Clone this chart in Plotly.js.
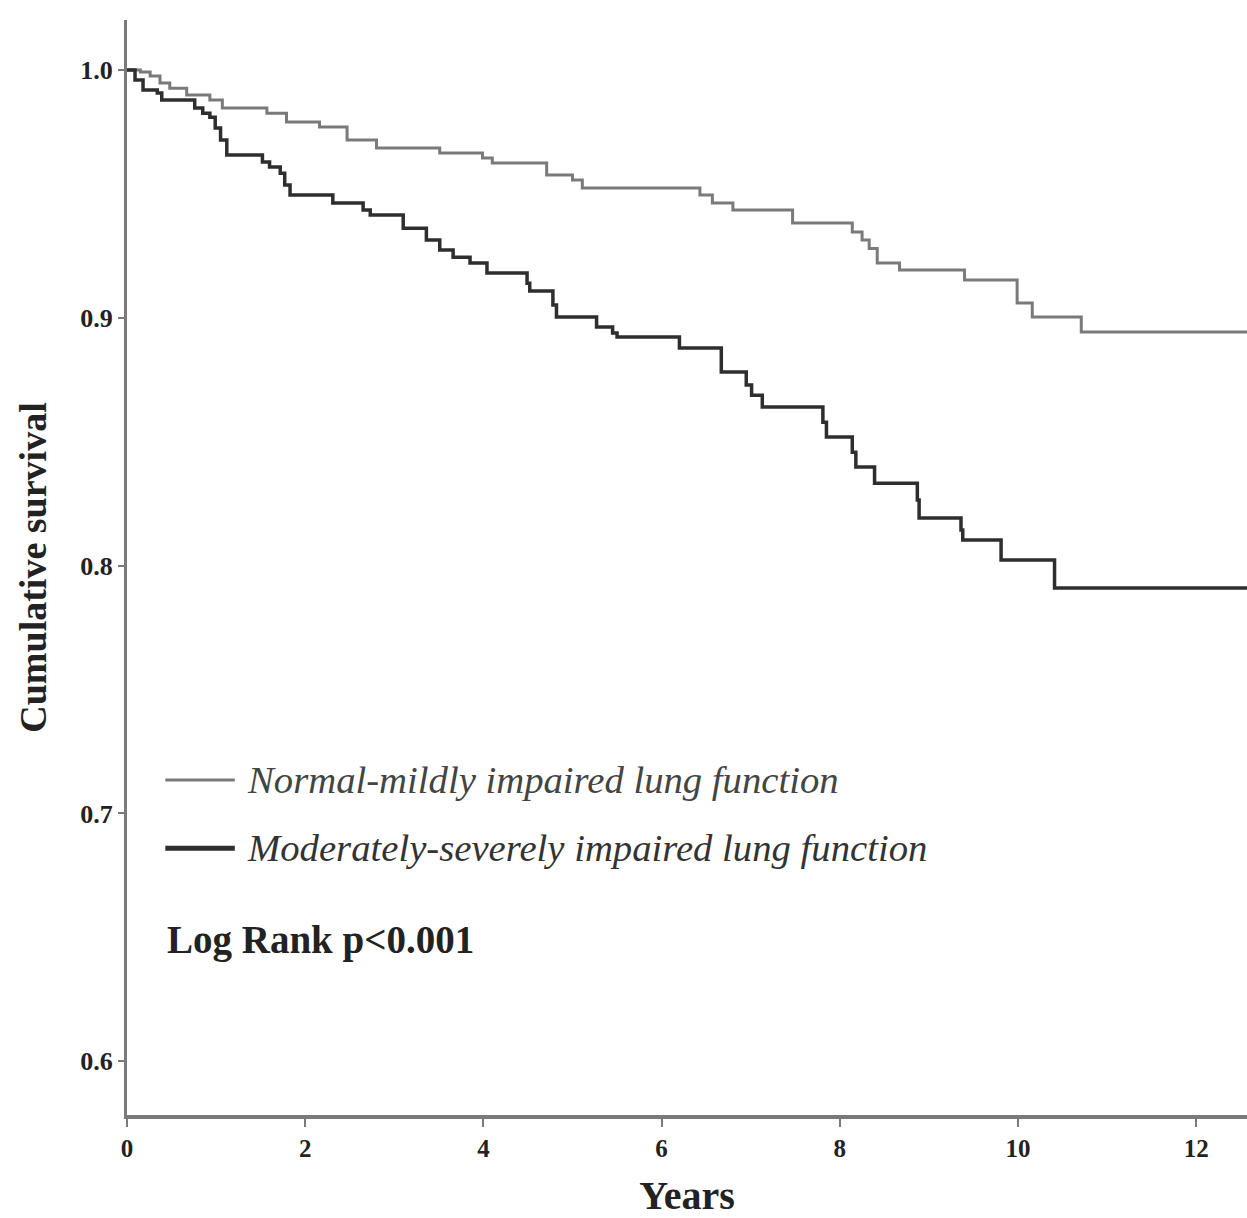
<!DOCTYPE html>
<html>
<head>
<meta charset="utf-8">
<script src="https://cdn.plot.ly/plotly-3.0.1.min.js"></script>
<style>html,body{margin:0;padding:0;background:#fff;}#chart{width:1247px;height:1218px;}</style>
</head>
<body>
<div id="chart"></div>
<script>
// Kaplan-Meier step points (years, cumulative survival)
const normalYears = [0, 0.15, 0.26, 0.37, 0.48, 0.67, 0.93, 1.07, 1.57, 1.79, 2.16, 2.47, 2.80, 3.51, 3.99, 4.10, 4.71, 5.00, 5.11, 6.43, 6.57, 6.80, 7.47, 8.14, 8.25, 8.33, 8.42, 8.67, 9.40, 9.99, 10.16, 10.71, 12.6];
const normalSurv  = [1.0, 0.9992, 0.9976, 0.9948, 0.9927, 0.9899, 0.9879, 0.9847, 0.9826, 0.9790, 0.9770, 0.9718, 0.9685, 0.9665, 0.9645, 0.9625, 0.9576, 0.9556, 0.9524, 0.9496, 0.9463, 0.9435, 0.9383, 0.9346, 0.9314, 0.9280, 0.9221, 0.9193, 0.9153, 0.9060, 0.9003, 0.8943, 0.8943];

const moderateYears = [0, 0.09, 0.18, 0.34, 0.39, 0.76, 0.85, 0.93, 0.99, 1.05, 1.12, 1.52, 1.60, 1.72, 1.77, 1.83, 2.31, 2.65, 2.73, 3.10, 3.36, 3.51, 3.66, 3.85, 4.04, 4.49, 4.52, 4.78, 4.82, 5.27, 5.45, 5.50, 6.20, 6.67, 6.95, 7.01, 7.13, 7.81, 7.85, 8.14, 8.18, 8.39, 8.87, 8.89, 9.36, 9.38, 9.81, 10.41, 12.6];
const moderateSurv  = [1.0, 0.996, 0.992, 0.9907, 0.9879, 0.9847, 0.9826, 0.9810, 0.9766, 0.9718, 0.9657, 0.9629, 0.9609, 0.9584, 0.9536, 0.9496, 0.9463, 0.9435, 0.9415, 0.9362, 0.9314, 0.9274, 0.9245, 0.9221, 0.9181, 0.9140, 0.9108, 0.9052, 0.9003, 0.8963, 0.8939, 0.8923, 0.8878, 0.8781, 0.8729, 0.8688, 0.8640, 0.8579, 0.8519, 0.8458, 0.8398, 0.8333, 0.8265, 0.8192, 0.8144, 0.8103, 0.8023, 0.7910, 0.7910];

const seriesNames = ["Normal-mildly impaired lung function", "Moderately-severely impaired lung function"];
const xTicks = [0, 2, 4, 6, 8, 10, 12];
const yTicks = [0.6, 0.7, 0.8, 0.9, 1.0];
const yTickLabels = ["0.6", "0.7", "0.8", "0.9", "1.0"];
const pValueText = "Log Rank p<0.001";

const serif = "Liberation Serif, Times New Roman, serif";
const grayCol = "#7a7a7a";
const darkCol = "#2e2e2e";

const traces = [
  {x: normalYears, y: normalSurv, name: seriesNames[0], type: "scatter", mode: "lines",
   line: {shape: "hv", color: grayCol, width: 3}},
  {x: moderateYears, y: moderateSurv, name: seriesNames[1], type: "scatter", mode: "lines",
   line: {shape: "hv", color: darkCol, width: 3.5}}
];

const legendY = [0.7135, 0.686];
const layout = {
  width: 1247, height: 1218,
  margin: {l: 127, r: 0, t: 20, b: 103},
  paper_bgcolor: "#fff", plot_bgcolor: "#fff",
  showlegend: false,
  xaxis: {
    range: [0, 12.57], tickvals: xTicks, ticktext: xTicks.map(String),
    showgrid: false, zeroline: false, showline: true, linecolor: grayCol, linewidth: 4,
    ticks: "outside", ticklen: 8, tickwidth: 2, tickcolor: grayCol,
    tickfont: {family: serif, size: 25, color: "#222", weight: "bold"},
    title: {text: "<b>Years</b>", font: {family: serif, size: 40, color: "#222"}, standoff: 40}
  },
  yaxis: {
    range: [0.5783, 1.0202], tickvals: yTicks, ticktext: yTickLabels,
    showgrid: false, zeroline: false, showline: true, linecolor: grayCol, linewidth: 3,
    ticks: "outside", ticklen: 6, tickwidth: 2, tickcolor: grayCol,
    tickfont: {family: serif, size: 26, color: "#222", weight: "bold"},
    title: {text: "<b>Cumulative survival</b>", font: {family: serif, size: 38, color: "#222"}, standoff: 22}
  },
  shapes: [
    {type: "line", xref: "x", yref: "y", x0: 0.43, x1: 1.21, y0: legendY[0], y1: legendY[0], line: {color: grayCol, width: 3}},
    {type: "line", xref: "x", yref: "y", x0: 0.43, x1: 1.21, y0: legendY[1], y1: legendY[1], line: {color: darkCol, width: 5}}
  ],
  annotations: [
    {xref: "x", yref: "y", x: 1.32, y: legendY[0], xanchor: "left", yanchor: "middle", showarrow: false,
     text: "<i>" + seriesNames[0] + "</i>", font: {family: serif, size: 38.7, color: "#444"}},
    {xref: "x", yref: "y", x: 1.32, y: legendY[1], xanchor: "left", yanchor: "middle", showarrow: false,
     text: "<i>" + seriesNames[1] + "</i>", font: {family: serif, size: 38.7, color: "#333"}},
    {xref: "x", yref: "y", x: 0.43, y: 0.649, xanchor: "left", yanchor: "middle", showarrow: false,
     text: "<b>" + pValueText + "</b>", font: {family: serif, size: 39, color: "#222"}}
  ]
};

Plotly.newPlot("chart", traces, layout, {displayModeBar: false, staticPlot: true});
</script>
</body>
</html>
